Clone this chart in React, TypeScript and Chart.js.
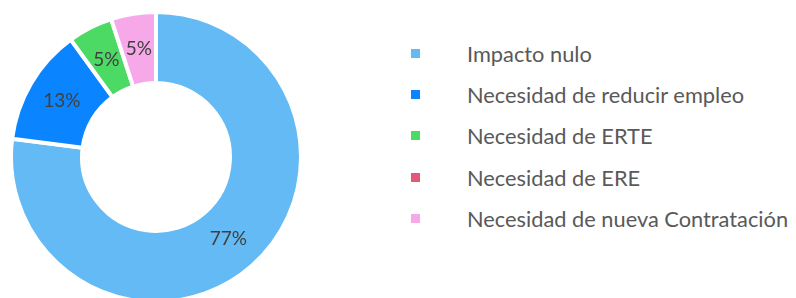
import React, { useEffect, useRef } from "react";
import { Chart, registerables } from "chart.js";

Chart.register(...registerables);

const categories = [
  "Impacto nulo",
  "Necesidad de reducir empleo",
  "Necesidad de ERTE",
  "Necesidad de ERE",
  "Necesidad de nueva Contratación",
];
const values = [77, 13, 5, 0, 5];
const colors = ["#63BAF5", "#0A85FF", "#4CD964", "#E2577C", "#F7A8E8"];

const FONT = "Lato, 'Liberation Sans', sans-serif";

const labelPlugin = {
  id: "sliceLabels",
  afterDatasetsDraw(chart: any) {
    const ctx = chart.ctx;
    const meta = chart.getDatasetMeta(0);
    const data = chart.data.datasets[0].data as number[];
    const total = data.reduce((a, b) => a + b, 0);
    ctx.save();
    ctx.font = `19px ${FONT}`;
    ctx.fillStyle = "#404040";
    ctx.textAlign = "center";
    ctx.textBaseline = "middle";
    meta.data.forEach((arc: any, i: number) => {
      const v = data[i];
      if (!v) return;
      const p = arc.tooltipPosition();
      ctx.fillText(Math.round((v / total) * 100) + "%", p.x, p.y);
    });
    ctx.restore();
  },
};

export default function App() {
  const ref = useRef<HTMLCanvasElement>(null);
  useEffect(() => {
    if (!ref.current) return;
    const chart = new Chart(ref.current, {
      type: "doughnut",
      data: {
        labels: categories,
        datasets: [
          {
            data: values,
            backgroundColor: colors,
            borderColor: "#ffffff",
            borderWidth: 4,
          },
        ],
      },
      options: {
        animation: false,
        responsive: false,
        maintainAspectRatio: false,
        cutout: "51%",
        layout: { padding: 0 },
        plugins: {
          legend: { display: false },
          tooltip: { enabled: false },
        },
      },
      plugins: [labelPlugin],
    });
    return () => chart.destroy();
  }, []);

  return (
    <div>
      <div style={{ position: "absolute", left: 9, top: 10, width: 294, height: 294 }}>
        <canvas ref={ref} width={294} height={294} style={{ width: 294, height: 294 }} />
      </div>
      <div
        style={{
          position: "absolute",
          left: 411,
          top: 33,
          fontFamily: FONT,
          fontSize: 21.8,
          color: "#595959",
        }}
      >
        {categories.map((c, i) => (
          <div key={c} style={{ display: "flex", alignItems: "center", height: 41.2 }}>
            <span style={{ display: "inline-block", width: 9, height: 9, background: colors[i] }} />
            <span style={{ marginLeft: 47, whiteSpace: "nowrap" }}>{c}</span>
          </div>
        ))}
      </div>
    </div>
  );
}
